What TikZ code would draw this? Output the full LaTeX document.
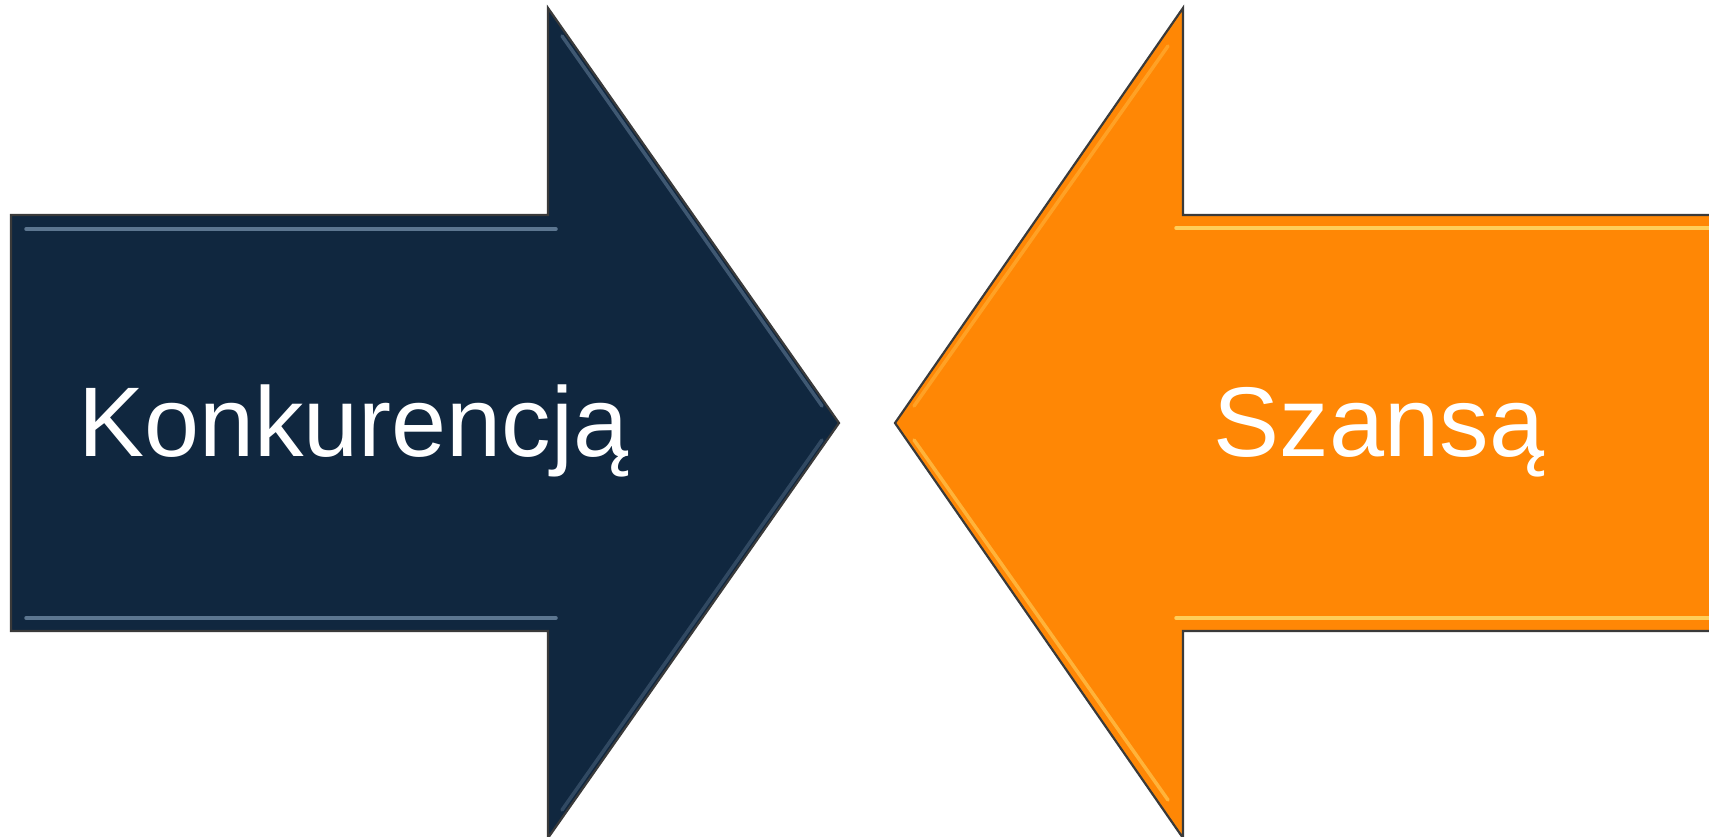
\documentclass[tikz,border=0pt]{standalone}
\usepackage{fontspec}
\setmainfont{Liberation Sans}
\definecolor{navy}{HTML}{10273F}
\definecolor{navyhi}{HTML}{6F8AA5}
\definecolor{orng}{HTML}{FF8705}
\definecolor{orhi}{HTML}{FFE070}
\definecolor{edge}{HTML}{3A3A3A}
\tikzset{
  arrowshape/.style={draw=edge, line width=2.2pt, line join=miter},
  bevel/.style={line width=3.5pt, line cap=round, opacity=0.8},
  label/.style={text=white, font=\fontsize{99}{110}\selectfont, inner sep=0pt, anchor=base west}
}
\begin{document}
\begin{tikzpicture}[x=1pt,y=-1pt]
\useasboundingbox (0,0) rectangle (1709,836);
\clip (0,0) rectangle (1709,836);
% left arrow
\path[arrowshape, fill=navy] (11,215) -- (548,215) -- (548,8) -- (839,423) -- (548,838) -- (548,631) -- (11,631) -- cycle;
\draw[bevel, navyhi] (26,229) -- (556,229);
\draw[bevel, navyhi] (26,618) -- (556,618);
\draw[bevel, navyhi, opacity=0.5] (562,36) -- (822,406);
\draw[bevel, navyhi, opacity=0.35] (822,440) -- (562,810);
% right arrow
\path[arrowshape, fill=orng] (1720,215) -- (1183,215) -- (1183,8) -- (895,423) -- (1183,838) -- (1183,631) -- (1720,631);
\draw[bevel, orhi] (1176,228) -- (1720,228);
\draw[bevel, orhi] (1176,618) -- (1720,618);
\draw[bevel, orhi, opacity=0.5] (914,440) -- (1168,800);
\draw[bevel, orhi, opacity=0.3] (914,406) -- (1168,46);
% texts
\node[label] (konk) at (78,456) {Konkurencją};
\node[label, anchor=base] (szansa) at (1379,456) {Szansą};
\end{tikzpicture}
\end{document}
